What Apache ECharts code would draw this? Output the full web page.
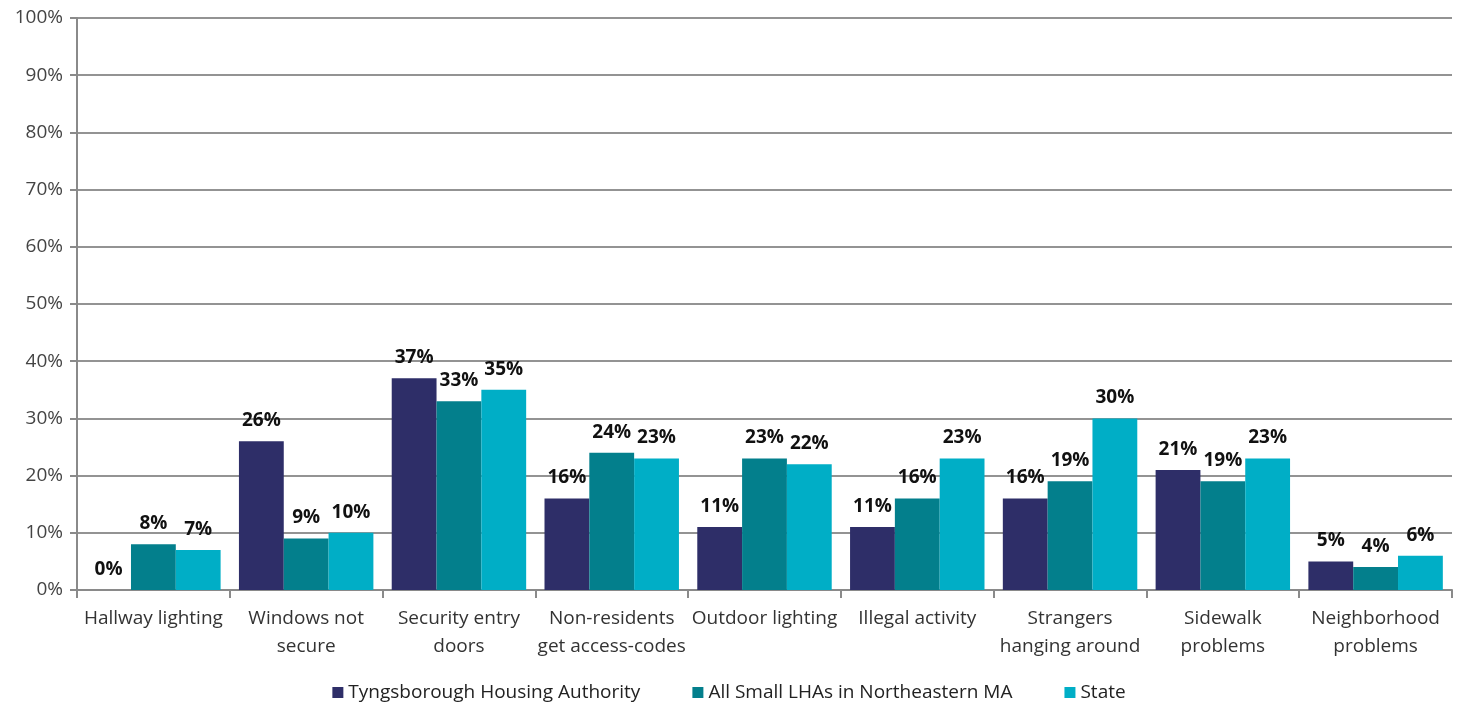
<!DOCTYPE html>
<html>
<head>
<meta charset="utf-8">
<script src="https://cdn.jsdelivr.net/npm/echarts@6/dist/echarts.min.js"></script>
<style>
html,body{margin:0;padding:0;background:#fff;}
#c{width:1458px;height:709px;}
</style>
</head>
<body>
<div id="c"></div>
<script>
const categories = ["Hallway lighting","Windows not\nsecure","Security entry\ndoors","Non-residents\nget access-codes","Outdoor lighting","Illegal activity","Strangers\nhanging around","Sidewalk\nproblems","Neighborhood\nproblems"];
const seriesNames = ["Tyngsborough Housing Authority","All Small LHAs in Northeastern MA","State"];
const tyngsborough = [0,26,37,16,11,11,16,21,5];
const smallLHAs = [8,9,33,24,23,16,19,19,4];
const state = [7,10,35,23,22,23,30,23,6];
const colors = ["#2E2E68","#037F8C","#00AEC6"];
const font = "'Open Sans', 'Liberation Sans', sans-serif";

const chart = echarts.init(document.getElementById('c'));
const mk = (name, data, color) => ({
  name, type:'bar', data, barGap:'0%', barCategoryGap:'12%',
  itemStyle:{color},
  label:{show:true, position:'top', distance:11, formatter:'{c}%', fontFamily:font, fontWeight:'bold', fontSize:19, color:'#111'}
});
chart.setOption({
  animation:false,
  grid:{left:77, right:6, top:18, bottom:119, containLabel:false},
  legend:{bottom:2, left:'center', itemWidth:11, itemHeight:11, itemGap:52, icon:'rect',
    textStyle:{fontFamily:font, fontSize:19, color:'#222'}, data:seriesNames},
  xAxis:{type:'category', data:categories,
    axisLine:{lineStyle:{color:'#8a8a8a', width:2}},
    axisTick:{show:true, length:8, lineStyle:{color:'#8a8a8a', width:2}},
    axisLabel:{fontFamily:font, fontSize:19, color:'#333', lineHeight:28, margin:15, interval:0}},
  yAxis:{type:'value', min:0, max:100, interval:10,
    axisLabel:{formatter:'{value}%', fontFamily:font, fontSize:19, color:'#444', margin:14},
    axisLine:{show:true, lineStyle:{color:'#8a8a8a', width:2}},
    axisTick:{show:true, length:7, lineStyle:{color:'#8a8a8a', width:2}},
    splitLine:{lineStyle:{color:'#939393', width:2}}},
  series:[mk(seriesNames[0], tyngsborough, colors[0]), mk(seriesNames[1], smallLHAs, colors[1]), mk(seriesNames[2], state, colors[2])]
});
</script>
</body>
</html>
